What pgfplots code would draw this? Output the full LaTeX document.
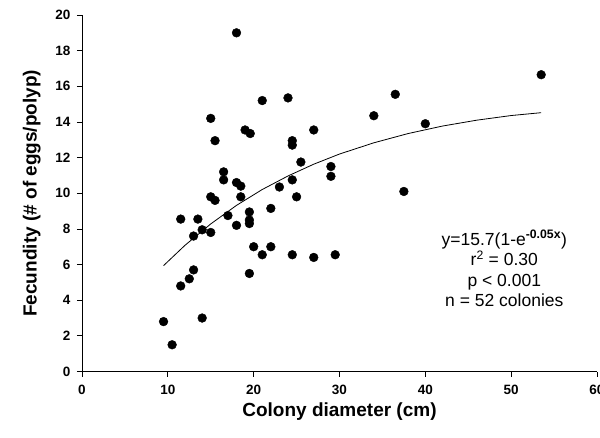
\documentclass[border=0pt]{standalone}
\usepackage{fontspec}
\setmainfont{Liberation Sans}
\usepackage{pgfplots}
\pgfplotsset{compat=1.18}
\begin{document}
\begin{tikzpicture}
\begin{axis}[
  at={(0pt,0pt)}, anchor=south west,
  width=515pt, height=356.5pt, scale only axis,
  xmin=0, xmax=60, ymin=0, ymax=20,
  xtick={0,10,...,60}, ytick={0,2,...,20},
  axis lines=left, axis line style={-, line width=0.9pt},
  tick align=outside, major tick length=5pt,
  tick style={line width=0.8pt, black},
  /pgf/number format/assume math mode=true,
  ticklabel style={font=\fontsize{13.5}{15}\selectfont\bfseries},
  xticklabel style={yshift=-5pt},
  yticklabel style={xshift=-3pt},
  xlabel={Colony diameter (cm)},
  ylabel={Fecundity (\# of eggs/polyp)},
  label style={font=\fontsize{19}{22}\selectfont\bfseries},
  xlabel style={yshift=-1pt},
  ylabel style={yshift=8pt},
  clip=false,
]
% colonies
\addplot[only marks, mark=*, mark size=4.4pt, black] coordinates {
(9.5,2.8) (10.5,1.5) (11.5,8.55) (11.5,4.8) (12.5,5.2) (13,5.7) (13,7.6)
(13.5,8.55) (14,7.95) (14,3.0) (15,14.2) (15.5,12.95) (15,9.8) (15.5,9.6)
(15,7.8) (16.5,11.2) (16.5,10.75) (17,8.75) (18,19) (18,10.6) (18.5,10.4)
(18.5,9.8) (18,8.2) (19,13.55) (19.6,13.35) (19.5,8.95) (19.5,8.5) (19.5,8.3)
(19.5,5.5) (20,7.0) (21,15.2) (21,6.55) (22,9.15) (22,7.0) (23,10.35)
(24,15.35) (24.5,12.95) (24.5,12.7) (24.5,10.75) (24.5,6.55) (25,9.8)
(25.5,11.75) (27,13.55) (27,6.4) (29,11.5) (29,10.95) (29.5,6.55)
(34,14.35) (36.5,15.55) (37.5,10.1) (40,13.9) (53.5,16.65)
};
% fitted curve
\addplot[black, line width=0.8pt] coordinates {
(9.5,5.94) (12,7.08) (15,8.28) (18,9.32) (21,10.21) (24,10.97) (27,11.63)
(30,12.20) (34,12.83) (38,13.35) (42,13.77) (46,14.10) (50,14.36) (53.5,14.52)
};
\node[align=center, font=\fontsize{17.5}{20.5}\selectfont, inner sep=0pt]
  at (axis cs:49.2,5.78)
  {y=15.7(1-e\textsuperscript{\bfseries -0.05x})\\
   r\textsuperscript{2} = 0.30\\
   p < 0.001\\
   n = 52 colonies};
\end{axis}
\pgfresetboundingbox
\useasboundingbox (-82pt,-65.5pt) rectangle (518pt,371.5pt);
\end{tikzpicture}
\end{document}
